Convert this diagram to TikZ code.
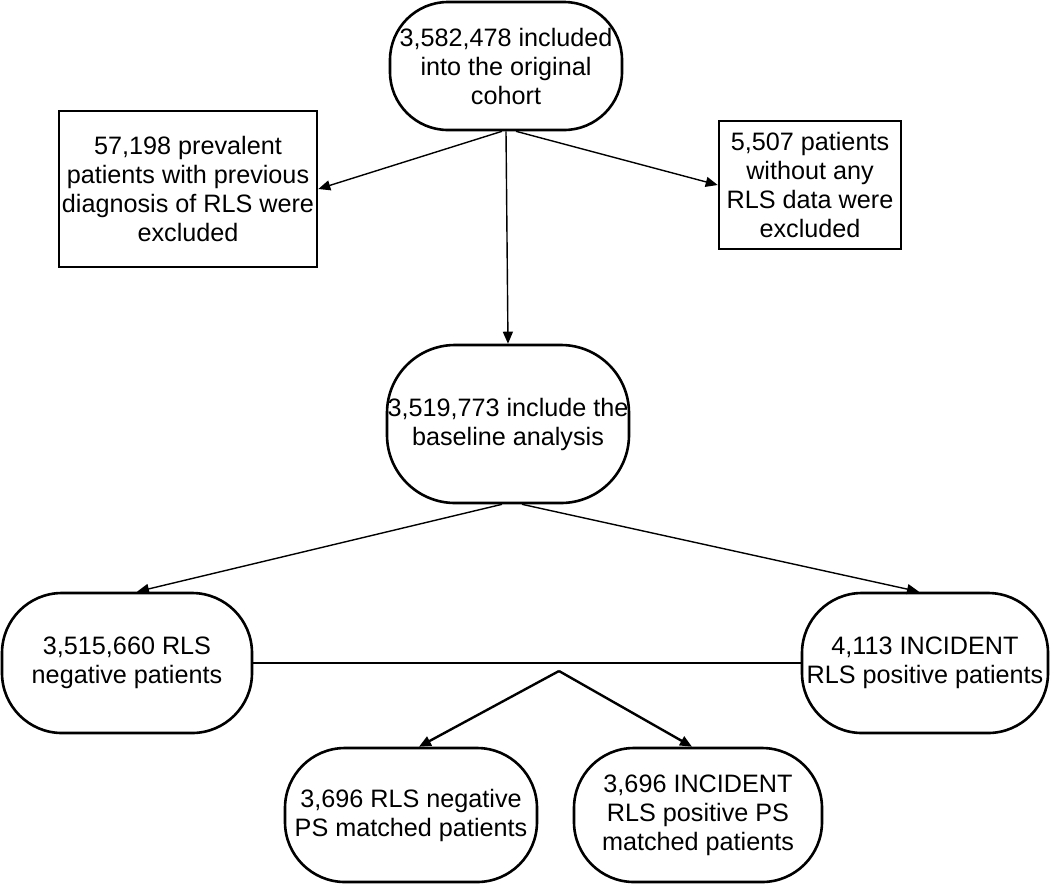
\documentclass[tikz,border=0pt]{standalone}
\usepackage{fontspec}
\setmainfont{Liberation Sans}
\usetikzlibrary{arrows.meta,positioning}

\begin{document}
\begin{tikzpicture}[x=0.5pt,y=-0.5pt,
        every node/.style={draw,align=center,inner sep=0pt,line width=1.3pt,
                font=\fontsize{12.6pt}{14.5pt}\selectfont},
        roundnode/.style={rounded corners=30pt},
        boxnode/.style={rectangle},
        link/.style={line width=0.7pt,-{Triangle[length=6pt,width=5pt]}},
        ]
        \clip (0,0) rectangle (1050,885);

        % the cohort
        \node[roundnode,rounded corners=29pt,minimum width=116pt,minimum height=64pt] (cohort) at (506,66)
                {3,582,478 included\\into the original\\cohort};

        % the excluded patients
        \node[boxnode,minimum width=129pt,minimum height=78pt] (prevalent) at (188,189)
                {57,198 prevalent\\patients with previous\\diagnosis of RLS were\\excluded};
        \node[boxnode,minimum width=91pt,minimum height=64pt] (nodata) at (810,185)
                {5,507 patients\\without any\\RLS data were\\excluded};

        % the baseline
        \node[roundnode,rounded corners=34pt,minimum width=121pt,minimum height=79pt] (baseline) at (508,424)
                {3,519,773 include the\\baseline analysis};

        % the two groups
        \node[roundnode,minimum width=125pt,minimum height=70pt] (negative) at (127,663)
                {3,515,660 RLS\\negative patients};
        \node[roundnode,minimum width=123pt,minimum height=70pt] (incident) at (925,663)
                {4,113 INCIDENT\\RLS positive patients};

        % the matched groups
        \node[roundnode,minimum width=126pt,minimum height=67pt] (psneg) at (411,815)
                {3,696 RLS negative\\PS matched patients};
        \node[roundnode,minimum width=124pt,minimum height=67pt] (pspos) at (698,815)
                {3,696 INCIDENT\\RLS positive PS\\matched patients};

        \coordinate (split) at (559,671);

        % the edges
        \draw[link] ([xshift=-2pt]cohort.south) -- (prevalent.east);
        \draw[link] ([xshift=5pt]cohort.south) -- (nodata.west);
        \draw[link] (cohort.south) -- (baseline.north);
        \draw[link] ([xshift=-3pt]baseline.south) -- ([xshift=5pt]negative.north);
        \draw[link] ([xshift=7pt]baseline.south) -- ([xshift=-3pt]incident.north);
        \draw[line width=0.7pt] (negative.east) -- (incident.west);
        \draw[link,line width=1.2pt] (split) -- ([xshift=4pt]psneg.north);
        \draw[link,line width=1.2pt] (split) -- ([xshift=-3pt]pspos.north);
\end{tikzpicture}
\end{document}
